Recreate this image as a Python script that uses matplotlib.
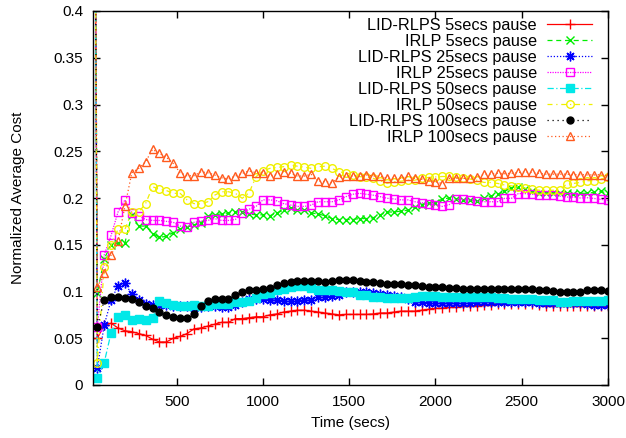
import matplotlib
matplotlib.use("Agg")
import matplotlib.pyplot as plt

plt.rcParams['font.family'] = ['Liberation Sans', 'DejaVu Sans']

# sampling times (first sample sits on the left edge, value off the chart)
time_secs = [15] + list(range(40, 3001, 40))
start_cost = 1.0

lid_5 = [0.050, 0.064, 0.066, 0.061, 0.058, 0.057, 0.055, 0.053, 0.049, 0.046,
         0.046, 0.050, 0.052, 0.055, 0.060, 0.061, 0.063, 0.065, 0.067, 0.067,
         0.071, 0.071, 0.072, 0.073, 0.073, 0.075, 0.076, 0.078, 0.079, 0.080,
         0.080, 0.079, 0.078, 0.077, 0.076, 0.075, 0.0755, 0.0755, 0.0755, 0.0755,
         0.076, 0.077, 0.077, 0.078, 0.079, 0.079, 0.079, 0.080, 0.081, 0.082,
         0.082, 0.083, 0.083, 0.084, 0.084, 0.085, 0.086, 0.086, 0.087, 0.087,
         0.087, 0.087, 0.087, 0.087, 0.086, 0.085, 0.085, 0.085, 0.084, 0.084,
         0.084, 0.084, 0.085, 0.085, 0.085]

irlp_5 = [0.098, 0.135, 0.150, 0.152, 0.152, 0.182, 0.170, 0.170, 0.162, 0.158,
          0.159, 0.163, 0.167, 0.169, 0.171, 0.173, 0.181, 0.182, 0.183, 0.184,
          0.185, 0.185, 0.183, 0.182, 0.182, 0.181, 0.184, 0.187, 0.189, 0.187,
          0.187, 0.184, 0.183, 0.181, 0.178, 0.177, 0.177, 0.177, 0.178, 0.178,
          0.179, 0.182, 0.185, 0.185, 0.186, 0.187, 0.190, 0.193, 0.195, 0.195,
          0.199, 0.200, 0.199, 0.198, 0.198, 0.197, 0.200, 0.202, 0.204, 0.207,
          0.211, 0.212, 0.210, 0.207, 0.205, 0.205, 0.205, 0.205, 0.205, 0.204,
          0.205, 0.205, 0.206, 0.207, 0.205]

lid_25 = [0.018, 0.064, 0.091, 0.106, 0.109, 0.097, 0.091, 0.087, 0.086, 0.086,
          0.086, 0.085, 0.0845, 0.084, 0.082, 0.083, 0.084, 0.084, 0.083, 0.083,
          0.086, 0.089, 0.092, 0.092, 0.092, 0.091, 0.091, 0.090, 0.090, 0.090,
          0.091, 0.091, 0.094, 0.094, 0.095, 0.096, 0.099, 0.099, 0.099, 0.099,
          0.098, 0.097, 0.096, 0.095, 0.094, 0.092, 0.089, 0.089, 0.088, 0.088,
          0.088, 0.088, 0.088, 0.088, 0.088, 0.089, 0.089, 0.089, 0.089, 0.089,
          0.089, 0.089, 0.089, 0.089, 0.088, 0.088, 0.088, 0.088, 0.088, 0.088,
          0.088, 0.087, 0.086, 0.086, 0.086]

irlp_25 = [0.062, 0.139, 0.160, 0.185, 0.198, 0.184, 0.181, 0.177, 0.176, 0.176,
           0.175, 0.174, 0.170, 0.169, 0.174, 0.175, 0.176, 0.178, 0.176, 0.176,
           0.177, 0.184, 0.188, 0.191, 0.198, 0.198, 0.197, 0.194, 0.1925, 0.191,
           0.191, 0.1925, 0.196, 0.196, 0.196, 0.198, 0.2014, 0.204, 0.205, 0.204,
           0.203, 0.2014, 0.1997, 0.199, 0.198, 0.198, 0.196, 0.195, 0.1936, 0.1925,
           0.191, 0.193, 0.1985, 0.1985, 0.198, 0.1967, 0.196, 0.196, 0.196, 0.1996,
           0.1996, 0.2047, 0.2047, 0.204, 0.203, 0.203, 0.203, 0.202, 0.201, 0.201,
           0.200, 0.2003, 0.1995, 0.1985, 0.1975]

lid_50 = [0.008, 0.024, 0.056, 0.073, 0.075, 0.070, 0.071, 0.070, 0.072, 0.090,
          0.088, 0.086, 0.085, 0.084, 0.086, 0.084, 0.085, 0.087, 0.087, 0.087,
          0.089, 0.089, 0.090, 0.093, 0.097, 0.098, 0.1016, 0.103, 0.105, 0.1055,
          0.106, 0.104, 0.102, 0.102, 0.102, 0.1005, 0.099, 0.099, 0.096, 0.096,
          0.0945, 0.0945, 0.093, 0.093, 0.093, 0.093, 0.0945, 0.095, 0.095, 0.095,
          0.094, 0.094, 0.094, 0.094, 0.094, 0.094, 0.094, 0.094, 0.093, 0.093,
          0.092, 0.092, 0.092, 0.092, 0.091, 0.091, 0.091, 0.089, 0.089, 0.090,
          0.090, 0.090, 0.090, 0.090, 0.0905]

irlp_50 = [0.023, 0.1265, 0.150, 0.1665, 0.1665, 0.185, 0.185, 0.194, 0.212, 0.2096,
           0.208, 0.205, 0.205, 0.198, 0.194, 0.1936, 0.196, 0.203, 0.2067, 0.2067,
           0.205, 0.1997, 0.2057, 0.2228, 0.229, 0.2317, 0.2327, 0.2335, 0.2353, 0.234,
           0.233, 0.2317, 0.2335, 0.234, 0.2317, 0.228, 0.227, 0.2246, 0.2228, 0.2225,
           0.221, 0.2185, 0.2157, 0.2175, 0.218, 0.219, 0.219, 0.221, 0.222, 0.2225,
           0.223, 0.223, 0.222, 0.221, 0.2203, 0.219, 0.2167, 0.2165, 0.2156, 0.214,
           0.213, 0.212, 0.2105, 0.2095, 0.2083, 0.2083, 0.2083, 0.2083, 0.215, 0.2156,
           0.2167, 0.2185, 0.2185, 0.2203, 0.222]

lid_100 = [0.062, 0.091, 0.094, 0.094, 0.093, 0.092, 0.089, 0.0845, 0.082, 0.078,
           0.075, 0.073, 0.072, 0.072, 0.076, 0.084, 0.090, 0.092, 0.092, 0.092,
           0.096, 0.100, 0.102, 0.102, 0.103, 0.104, 0.107, 0.109, 0.1105, 0.1115,
           0.1115, 0.111, 0.111, 0.110, 0.111, 0.1123, 0.1123, 0.112, 0.111, 0.1105,
           0.110, 0.109, 0.108, 0.1077, 0.108, 0.107, 0.107, 0.106, 0.105, 0.105,
           0.105, 0.1035, 0.1035, 0.103, 0.1025, 0.1025, 0.1025, 0.1025, 0.1025, 0.103,
           0.103, 0.103, 0.103, 0.1025, 0.1014, 0.1014, 0.1005, 0.100, 0.0995, 0.0995,
           0.100, 0.1014, 0.1014, 0.1017, 0.1005]

irlp_100 = [0.1045, 0.120, 0.139, 0.154, 0.191, 0.227, 0.2317, 0.2388, 0.252, 0.2477,
            0.2435, 0.237, 0.227, 0.2238, 0.2238, 0.228, 0.227, 0.2246, 0.2217, 0.2203,
            0.2235, 0.2264, 0.229, 0.227, 0.227, 0.2235, 0.2253, 0.228, 0.2264, 0.2235,
            0.2235, 0.2253, 0.218, 0.2175, 0.2164, 0.222, 0.2235, 0.2235, 0.2235, 0.2246,
            0.2235, 0.2235, 0.221, 0.221, 0.221, 0.2235, 0.221, 0.220, 0.2185, 0.2175,
            0.2153, 0.221, 0.221, 0.221, 0.221, 0.222, 0.2255, 0.2255, 0.2265, 0.226,
            0.2265, 0.2273, 0.2277, 0.2273, 0.2265, 0.2255, 0.2255, 0.2255, 0.2255, 0.225,
            0.225, 0.2247, 0.2247, 0.225, 0.2236]

labels = ['LID-RLPS 5secs pause', 'IRLP 5secs pause',
          'LID-RLPS 25secs pause', 'IRLP 25secs pause',
          'LID-RLPS 50secs pause', 'IRLP 50secs pause',
          'LID-RLPS 100secs pause', 'IRLP 100secs pause']
series = [lid_5, irlp_5, lid_25, irlp_25, lid_50, irlp_50, lid_100, irlp_100]

x_ticks = [500, 1000, 1500, 2000, 2500, 3000]
y_ticks = [0, 0.05, 0.1, 0.15, 0.2, 0.25, 0.3, 0.35, 0.4]
y_tick_labels = ['0', '0.05', '0.1', '0.15', '0.2', '0.25', '0.3', '0.35', '0.4']

# gnuplot-like styles: colour, marker, linestyle, marker size, filled?
styles = [
    ('#ff0000', '+', '-', 7, True),
    ('#00ee00', 'x', (0, (4, 3)), 6, True),
    ('#0000ff', (8, 2, 0), (0, (1, 1.5)), 7, True),
    ('#ff00ff', 's', (0, (1, 1)), 5.5, False),
    ('#00e8e8', 's', (0, (5, 2, 1, 2)), 5.5, True),
    ('#f0f000', 'o', (0, (4, 3, 1, 3)), 5.5, False),
    ('#000000', 'o', (0, (1, 3)), 5, True),
    ('#ff5a1e', '^', (0, (1, 2)), 5.5, False),
]

fig = plt.figure(figsize=(6.26, 4.38), dpi=100)
ax = fig.add_axes([93 / 626, 1 - 385 / 438, 515 / 626, 374 / 438])

for vals, lab, (col, mk, ls, ms, filled) in zip(series, labels, styles):
    ax.plot(time_secs, [start_cost] + vals, color=col, linestyle=ls, linewidth=0.9,
            marker=mk, markersize=ms, markeredgewidth=1,
            markerfacecolor=col if filled else 'none', markeredgecolor=col,
            label=lab)

ax.set_xlim(15, 3000)
ax.set_ylim(0, 0.4)
ax.set_xticks(x_ticks)
ax.set_yticks(y_ticks)
ax.set_yticklabels(y_tick_labels)
ax.tick_params(direction='in', length=5, width=1, top=True, right=True,
               labelsize=11, pad=7)
for s in ax.spines.values():
    s.set_linewidth(1)

fig.text(18 / 626, 1 - 198 / 438, 'Normalized Average Cost', rotation=90,
         ha='center', va='center', fontsize=11)
fig.text(350 / 626, 1 - 423 / 438, 'Time (secs)', ha='center', va='center',
         fontsize=11)

leg = ax.legend(loc='upper right', bbox_to_anchor=(592 / 626, 1 - 18 / 438),
                bbox_transform=fig.transFigure, frameon=False, markerfirst=False,
                fontsize=11.7, handlelength=2.75, handletextpad=0.65,
                labelspacing=0.06, borderpad=0, borderaxespad=0, numpoints=1)

fig.savefig('out.png', dpi=100)
